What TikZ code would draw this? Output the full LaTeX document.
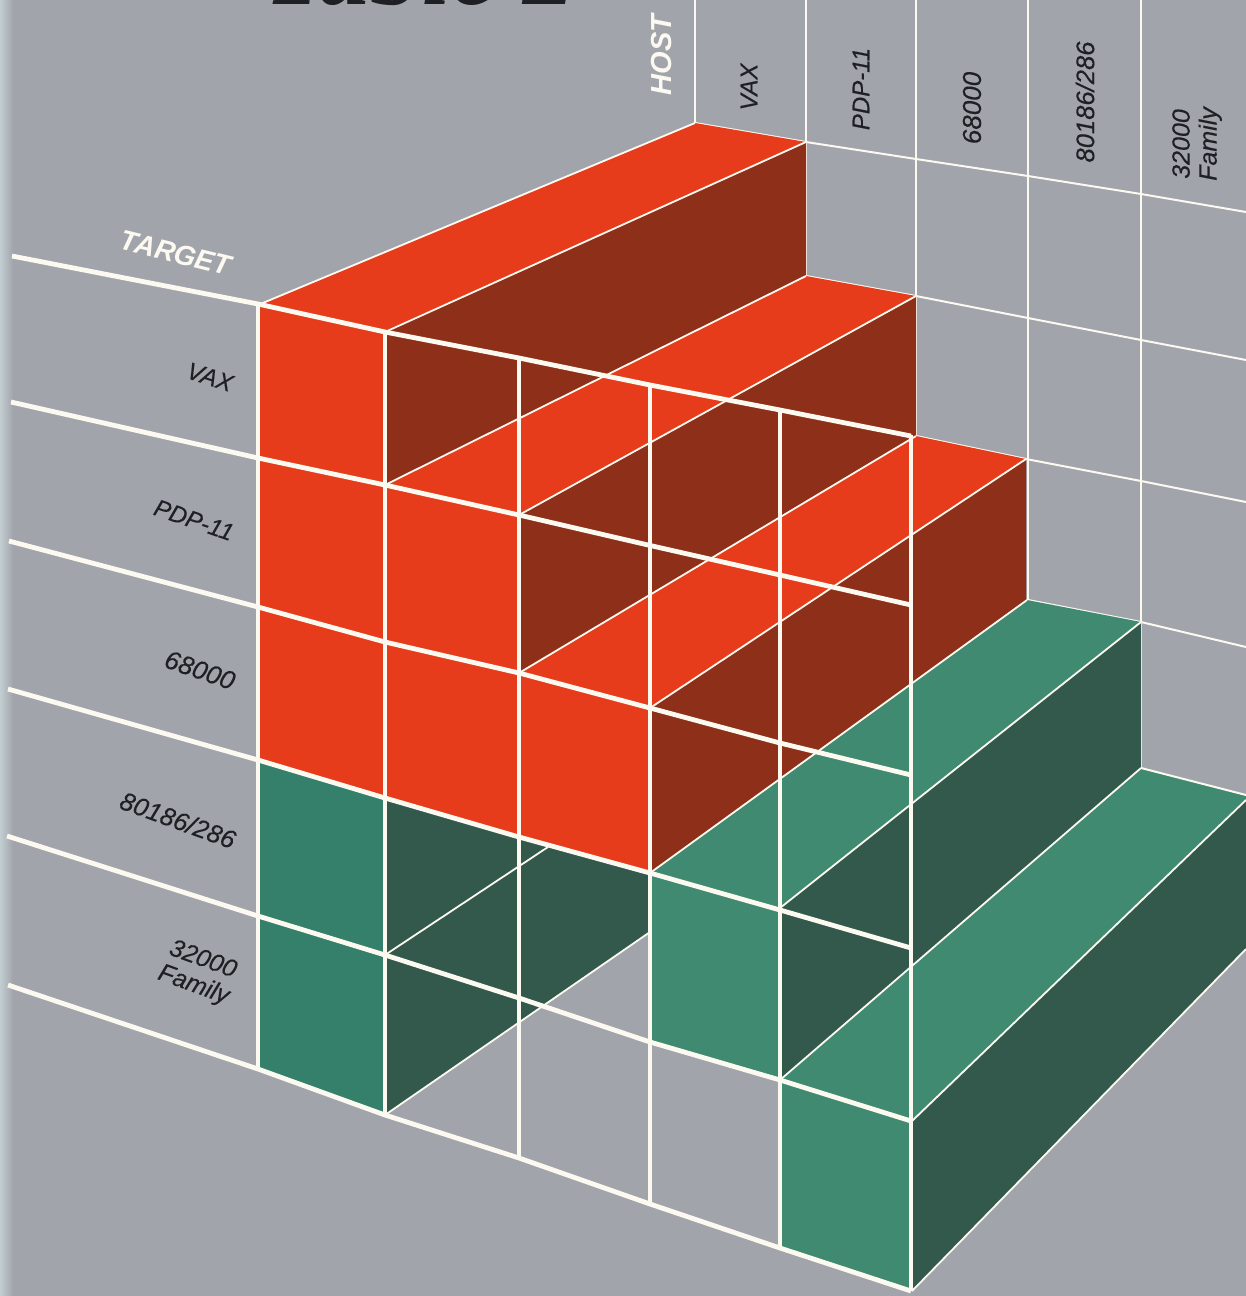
\documentclass[tikz,border=0pt]{standalone}
\usepackage{fontspec}
\setmainfont[ItalicFeatures={FakeBold=0.25}]{Liberation Sans}
\newfontfamily\titlefont{Liberation Serif}
\definecolor{bgray}{HTML}{A1A5AB}
\definecolor{strip}{HTML}{C2CDD2}
\definecolor{redtop}{HTML}{E73C1B}
\definecolor{reddark}{HTML}{8E3019}
\definecolor{greentop}{HTML}{3F8A70}
\definecolor{greenfront}{HTML}{34806A}
\definecolor{greendark}{HTML}{33594D}
\definecolor{inkdark}{HTML}{1E2024}
\definecolor{linew}{HTML}{FBF9F0}
\tikzset{
  thick line/.style={draw=linew,line width=4.8pt,line cap=butt},
  mid line/.style={draw=linew,line width=3.6pt},
  thin line/.style={draw=linew,line width=2pt},
  edge line/.style={draw=linew,line width=1.8pt},
  rowlabel/.style={font=\fontsize{24}{27}\selectfont\itshape,text=inkdark,inner sep=0pt,align=center},
  collabel/.style={font=\fontsize{24}{27}\selectfont\itshape,text=inkdark,inner sep=0pt,align=center,rotate=90},
  axislabel/.style={text=linew,inner sep=0pt}
}
\begin{document}
\begin{tikzpicture}[x=1pt,y=-1pt]
\useasboundingbox (0,0) rectangle (1246,1296);
\clip (0,0) rectangle (1246,1296);
\fill[bgray] (0,0) rectangle (1246,1296);
\shade[left color=strip,right color=bgray] (0,0) rectangle (13,1296);
\node[anchor=base,inner sep=0pt,text=inkdark,font=\titlefont\fontsize{104}{110}\selectfont\bfseries\itshape] (title) at (420,4) {Table 2};

% back grid on the floor/wall
\foreach \a/\b in {695/123,806/142,916/159,1028/176,1141/194}{\draw[thin line] (\a,0) -- (\a,\b);}
\draw[thin line] (806,142) -- (806,276);
\draw[thin line] (916,159) -- (916,436);
\draw[thin line] (1028,176) -- (1028,600);
\draw[thin line] (1141,194) -- (1141,768);
\draw[thin line] (695,123) -- (806,142) -- (916,159) -- (1028,176) -- (1141,194) -- (1246,212);
\draw[thin line] (806,276) -- (916,296) -- (1028,318) -- (1141,340) -- (1246,360);
\draw[thin line] (916,436) -- (1026,459) -- (1141,481) -- (1246,502);
\draw[thin line] (1028,600) -- (1141,622) -- (1246,647);

% steps, back to front
\fill[redtop] (258,305) -- (695,123) -- (806,142) -- (385,332) -- cycle;
\fill[reddark] (385,332) -- (806,142) -- (806,276) -- (385,485) -- cycle;
\fill[redtop] (385,485) -- (806,276) -- (916,296) -- (519,515) -- cycle;
\fill[reddark] (519,515) -- (916,296) -- (916,436) -- (519,673) -- cycle;
\fill[redtop] (519,673) -- (916,436) -- (1026,459) -- (650,708) -- cycle;
\fill[reddark] (650,708) -- (1026,459) -- (1026,600) -- (650,873) -- cycle;
\fill[greentop] (650,873) -- (1027,600) -- (1141,622) -- (780,908) -- cycle;
\fill[greendark] (780,908) -- (1141,622) -- (1141,768) -- (780,1080) -- cycle;
\fill[greentop] (780,1080) -- (1141,768) -- (1246,795) -- (1246,800) -- (912,1121) -- cycle;
\fill[greendark] (912,1121) -- (1246,800) -- (1246,949) -- (912,1291) -- cycle;
% lower left dark side
\fill[greendark] (385,798) -- (519,837) -- (650,873) -- (650,932) -- (385,1115) -- cycle;
% front faces
\fill[redtop] (258,305) -- (385,332) -- (385,485) -- (519,515) -- (519,673) -- (650,708) -- (650,873) -- (519,837) -- (385,798) -- (258,760) -- cycle;
\fill[greenfront] (258,760) -- (385,798) -- (385,1115) -- (258,1070) -- cycle;
\fill[greentop] (650,873) -- (780,908) -- (780,1080) -- (650,1042) -- cycle;
\fill[greentop] (780,1080) -- (912,1121) -- (912,1291) -- (780,1248) -- cycle;

% thin depth edges
\draw[edge line] (258,305) -- (695,123);
\draw[edge line] (385,332) -- (806,142);
\draw[edge line] (385,485) -- (806,276);
\draw[edge line] (519,515) -- (916,296);
\draw[edge line] (519,673) -- (916,436);
\draw[edge line] (650,708) -- (1026,459);
\draw[edge line] (650,873) -- (1027,600);
\draw[edge line] (780,908) -- (1141,622);
\draw[edge line] (780,1080) -- (1141,768);
\draw[thin line] (1141,768) -- (1246,795);
\draw[edge line] (912,1121) -- (1246,800);
\draw[edge line] (912,1291) -- (1246,949);
\draw[edge line] (385,955) -- (548,847);
\draw[edge line] (385,1115) -- (650,932);

% verticals through the front
\foreach \x/\a/\b in {258/305/1070,385/332/1115,519/358/1158,650/385/1204,780/410/1248,911/435/1291}{
  \draw[mid line] (\x,\a) -- (\x,\b);
}
% cross lines of the front grid
\draw[thick line] (12,256) -- (258,304) -- (385,332) -- (519,358) -- (650,385) -- (780,410) -- (911,436);
\draw[thick line] (11,402) -- (258,458) -- (385,485) -- (519,515) -- (648,545) -- (780,575) -- (911,605);
\draw[thick line] (9,541) -- (258,607) -- (385,642) -- (519,673) -- (650,708) -- (780,743) -- (911,775);
\draw[thick line] (8,689) -- (258,760) -- (385,798) -- (519,837) -- (650,873) -- (780,910) -- (911,948);
\draw[thick line] (7,836) -- (258,916) -- (385,955) -- (519,998) -- (650,1042) -- (780,1080) -- (911,1121);
\draw[thick line] (8,985) -- (258,1069) -- (385,1115) -- (519,1158) -- (650,1204) -- (780,1248) -- (911,1291);

% labels
\node[axislabel,font=\fontsize{29}{30}\selectfont\bfseries\itshape,rotate=90] (hostlab) at (662,55) {HOST};
\node[collabel] (hvax) at (749,87) {VAX};
\node[collabel] (hpdp) at (861,89) {PDP-11};
\node[collabel,font=\fontsize{26}{27}\selectfont\itshape] (h68) at (972,108) {68000};
\node[collabel,font=\fontsize{25.6}{27}\selectfont\itshape] (h80) at (1085,102) {80186/286};
\node[collabel,font=\fontsize{25}{27}\selectfont\itshape] (h32) at (1197,144) {32000\\Family};
\node[axislabel,font=\fontsize{28}{30}\selectfont\bfseries\itshape,rotate=-14] (tlab) at (176,253) {TARGET};
\node[rowlabel,rotate=-18] (tvax) at (210,377) {VAX};
\node[rowlabel,rotate=-19] (tpdp) at (194,520) {PDP-11};
\node[rowlabel,font=\fontsize{26}{27}\selectfont\itshape,rotate=-19] (t68) at (200,670) {68000};
\node[rowlabel,font=\fontsize{25.6}{27}\selectfont\itshape,rotate=-20] (t80) at (178,820) {80186/286};
\node[rowlabel,font=\fontsize{25}{27}\selectfont\itshape,rotate=-20] (t32) at (198,973) {32000\\Family};
\end{tikzpicture}
\end{document}
